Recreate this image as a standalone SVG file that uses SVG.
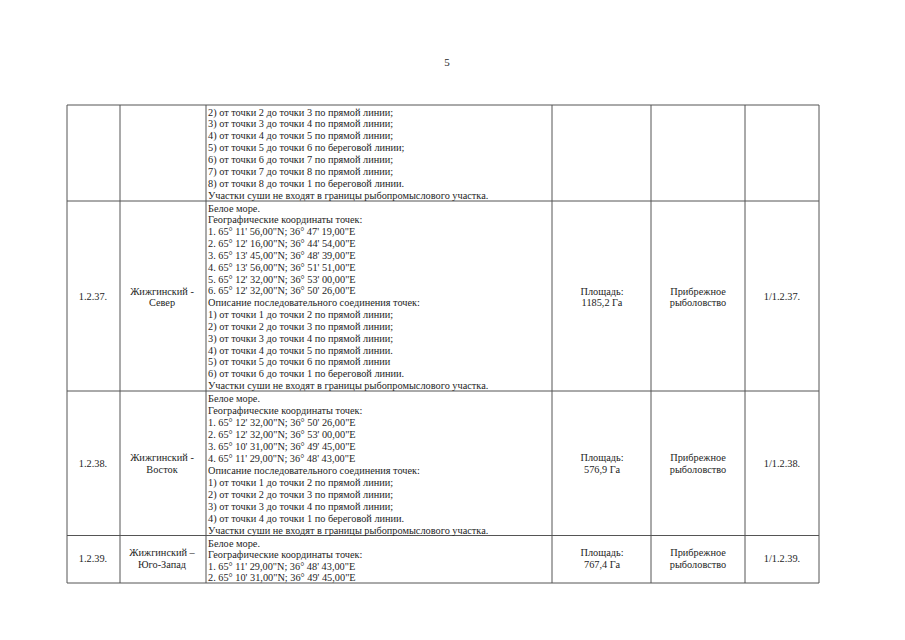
<svg xmlns="http://www.w3.org/2000/svg" width="905" height="640" viewBox="0 0 905 640">
<style>
text{font-family:"Liberation Serif","Times New Roman",serif;font-size:10.3px;fill:#1e1e1e}
.c{text-anchor:middle}
.g line{stroke:#555;stroke-width:1}
</style>
<rect width="905" height="640" fill="#fff"/>
<text x="447" y="66" class="c" style="font-size:11px">5</text>
<g class="g" id="grid">
<line x1="67" y1="105" x2="819" y2="105"/>
<line x1="67" y1="201" x2="819" y2="201"/>
<line x1="67" y1="391" x2="819" y2="391"/>
<line x1="67" y1="535.5" x2="819" y2="535.5"/>
<line x1="67" y1="583" x2="819" y2="583"/>
<line x1="67" y1="105" x2="67" y2="583"/>
<line x1="120" y1="105" x2="120" y2="583"/>
<line x1="206" y1="105" x2="206" y2="583"/>
<line x1="552" y1="105" x2="552" y2="583"/>
<line x1="651" y1="105" x2="651" y2="583"/>
<line x1="745" y1="105" x2="745" y2="583"/>
<line x1="819" y1="105" x2="819" y2="583"/>
</g>
<g id="row1">
<text x="208" y="115.5">2) от точки 2 до точки 3 по прямой линии;</text>
<text x="208" y="127.4">3) от точки 3 до точки 4 по прямой линии;</text>
<text x="208" y="139.4">4) от точки 4 до точки 5 по прямой линии;</text>
<text x="208" y="151.3">5) от точки 5 до точки 6 по береговой линии;</text>
<text x="208" y="163.2">6) от точки 6 до точки 7 по прямой линии;</text>
<text x="208" y="175.2">7) от точки 7 до точки 8 по прямой линии;</text>
<text x="208" y="187.1">8) от точки 8 до точки 1 по береговой линии.</text>
<text x="208" y="199">Участки суши не входят в границы рыбопромыслового участка.</text>
</g>
<g id="row2">
<text x="93" y="299.5" class="c">1.2.37.</text>
<text x="162" y="295" class="c">Жижгинский -</text>
<text x="162" y="306" class="c">Север</text>
<text x="208" y="211.5">Белое море.</text>
<text x="208" y="223.3">Географические координаты точек:</text>
<text x="208" y="235.2">1. 65° 11' 56,00"N; 36° 47' 19,00"E</text>
<text x="208" y="247">2. 65° 12' 16,00"N; 36° 44' 54,00"E</text>
<text x="208" y="258.8">3. 65° 13' 45,00"N; 36° 48' 39,00"E</text>
<text x="208" y="270.7">4. 65° 13' 56,00"N; 36° 51' 51,00"E</text>
<text x="208" y="282.5">5. 65° 12' 32,00"N; 36° 53' 00,00"E</text>
<text x="208" y="294.3">6. 65° 12' 32,00"N; 36° 50' 26,00"E</text>
<text x="208" y="306.1">Описание последовательного соединения точек:</text>
<text x="208" y="318">1) от точки 1 до точки 2 по прямой линии;</text>
<text x="208" y="329.8">2) от точки 2 до точки 3 по прямой линии;</text>
<text x="208" y="341.6">3) от точки 3 до точки 4 по прямой линии;</text>
<text x="208" y="353.5">4) от точки 4 до точки 5 по прямой линии.</text>
<text x="208" y="365.3">5) от точки 5 до точки 6 по прямой линии</text>
<text x="208" y="377.1">6) от точки 6 до точки 1 по береговой линии.</text>
<text x="208" y="389">Участки суши не входят в границы рыбопромыслового участка.</text>
<text x="602" y="295" class="c">Площадь:</text>
<text x="602" y="306" class="c">1185,2 Га</text>
<text x="698" y="295" class="c">Прибрежное</text>
<text x="698" y="306" class="c">рыболовство</text>
<text x="782" y="299.5" class="c">1/1.2.37.</text>
</g>
<g id="row3">
<text x="93" y="467" class="c">1.2.38.</text>
<text x="162" y="461" class="c">Жижгинский -</text>
<text x="162" y="473" class="c">Восток</text>
<text x="208" y="401.5">Белое море.</text>
<text x="208" y="413.5">Географические координаты точек:</text>
<text x="208" y="425.6">1. 65° 12' 32,00"N; 36° 50' 26,00"E</text>
<text x="208" y="437.6">2. 65° 12' 32,00"N; 36° 53' 00,00"E</text>
<text x="208" y="449.6">3. 65° 10' 31,00"N; 36° 49' 45,00"E</text>
<text x="208" y="461.7">4. 65° 11' 29,00"N; 36° 48' 43,00"E</text>
<text x="208" y="473.7">Описание последовательного соединения точек:</text>
<text x="208" y="485.7">1) от точки 1 до точки 2 по прямой линии;</text>
<text x="208" y="497.7">2) от точки 2 до точки 3 по прямой линии;</text>
<text x="208" y="509.8">3) от точки 3 до точки 4 по прямой линии;</text>
<text x="208" y="521.8">4) от точки 4 до точки 1 по береговой линии.</text>
<text x="208" y="533.8">Участки суши не входят в границы рыбопромыслового участка.</text>
<text x="602" y="461" class="c">Площадь:</text>
<text x="602" y="473" class="c">576,9 Га</text>
<text x="698" y="461" class="c">Прибрежное</text>
<text x="698" y="473" class="c">рыболовство</text>
<text x="782" y="467" class="c">1/1.2.38.</text>
</g>
<g id="row4">
<text x="93" y="562" class="c">1.2.39.</text>
<text x="162" y="556" class="c">Жижгинский –</text>
<text x="162" y="568" class="c">Юго-Запад</text>
<text x="208" y="546.5">Белое море.</text>
<text x="208" y="558">Географические координаты точек:</text>
<text x="208" y="569.5">1. 65° 11' 29,00"N; 36° 48' 43,00"E</text>
<text x="208" y="581">2. 65° 10' 31,00"N; 36° 49' 45,00"E</text>
<text x="602" y="556" class="c">Площадь:</text>
<text x="602" y="568" class="c">767,4 Га</text>
<text x="698" y="556" class="c">Прибрежное</text>
<text x="698" y="568" class="c">рыболовство</text>
<text x="782" y="562" class="c">1/1.2.39.</text>
</g>
</svg>
